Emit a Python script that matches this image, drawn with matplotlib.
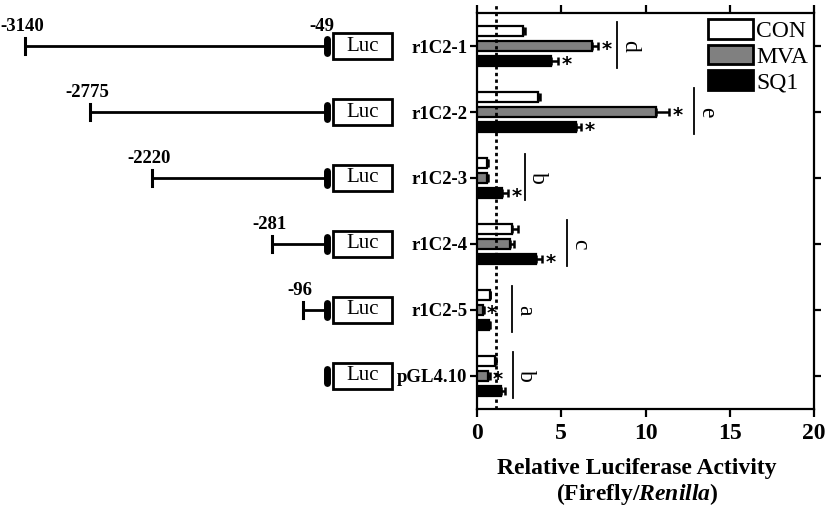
#!/usr/bin/env python3
"""
Promoter deletion constructs and relative luciferase activity
(CON / MVA / SQ1), horizontal grouped bars with construct schematics.
"""

import numpy as np
import matplotlib
matplotlib.use('Agg')
import matplotlib.pyplot as plt
from matplotlib.patches import Rectangle

plt.rcParams['font.family'] = ['Liberation Serif', 'DejaVu Serif']
plt.rcParams['mathtext.fontset'] = 'custom'
plt.rcParams['mathtext.rm'] = 'Liberation Serif:bold'
plt.rcParams['mathtext.bfit'] = 'Liberation Serif:italic:bold'

# ---- data ----
constructs = ['r1C2-1', 'r1C2-2', 'r1C2-3', 'r1C2-4', 'r1C2-5', 'pGL4.10']
start_labels = ['-3140', '-2775', '-2220', '-281', '-96', None]
end_label = '-49'

con = [2.7, 3.6, 0.6, 2.1, 0.75, 1.05]
con_err = [0.15, 0.12, 0.05, 0.35, 0.05, 0.05]
mva = [6.85, 10.6, 0.6, 1.95, 0.35, 0.65]
mva_err = [0.35, 0.8, 0.05, 0.25, 0.05, 0.1]
sq1 = [4.4, 5.85, 1.5, 3.5, 0.7, 1.45]
sq1_err = [0.4, 0.35, 0.33, 0.38, 0.05, 0.2]

mva_star = [True, True, False, False, True, True]
sq1_star = [True, True, True, True, False, False]

sig_letters = ['d', 'e', 'b', 'c', 'a', 'b']
sig_line_x = [8.3, 12.85, 2.85, 5.35, 2.05, 2.15]

baseline = 1.1

# schematic (not to scale) left ends of the promoter fragments
diagram_start = [25, 90, 152, 272, 303, None]

# ---- figure ----
fig = plt.figure(figsize=(8.25, 5.14), dpi=100)
ax = fig.add_axes([0.5782, 0.2043, 0.4085, 0.7704])
ax_d = fig.add_axes([0.0, 0.2043, 0.57, 0.7704], sharey=ax)

y = np.arange(len(constructs))
off = 0.227
h = 0.15
series = [
    ('CON', con, con_err, 'white'),
    ('MVA', mva, mva_err, '#808080'),
    ('SQ1', sq1, sq1_err, 'black'),
]
for i, (name, vals, errs, color) in enumerate(series):
    ys = y + (i - 1) * off
    ax.barh(ys, vals, height=h, color=color, edgecolor='black',
            linewidth=1.6, label=name, zorder=3)
    ax.errorbar(vals, ys, xerr=[np.zeros(len(vals)), errs], fmt='none',
                ecolor='black', elinewidth=1.8, capsize=3.2, capthick=1.8,
                zorder=2)

# stars
for k in range(len(constructs)):
    if mva_star[k]:
        ax.text(mva[k] + mva_err[k] + 0.2, y[k] + 0.06, '*', ha='left',
                va='center', fontsize=14, fontweight='bold',
                family='DejaVu Sans')
    if sq1_star[k]:
        ax.text(sq1[k] + sq1_err[k] + 0.2, y[k] + off + 0.06, '*', ha='left',
                va='center', fontsize=14, fontweight='bold',
                family='DejaVu Sans')

# significance groups
for k in range(len(constructs)):
    ax.plot([sig_line_x[k], sig_line_x[k]], [y[k] - 0.36, y[k] + 0.33],
            color='black', lw=1.3, clip_on=False)
    ax.text(sig_line_x[k] + 0.75, y[k], sig_letters[k], rotation=270,
            ha='center', va='center', fontsize=17)

ax.axvline(baseline, ymin=0, ymax=1.025, color='black', ls=(0, (1.2, 1.2)),
           lw=2, clip_on=False, zorder=4)

ax.set_xlim(0, 20)
ax.set_ylim(len(constructs) - 0.5, -0.5)
ax.set_xticks([0, 5, 10, 15, 20])
ax.set_xticklabels(['0', '5', '10', '15', '20'], fontsize=17, fontweight='bold')
ax.set_yticks(y)
ax.set_yticklabels(constructs, fontsize=13.5, fontweight='bold')
ax.tick_params(axis='x', direction='out', length=6, width=1.6, pad=4,
               top=True)
ax.tick_params(axis='y', direction='out', length=5, width=1.6, pad=2,
               right=True)
for s in ax.spines.values():
    s.set_linewidth(1.6)

ax.set_xlabel('Relative Luciferase Activity\n(Firefly/$\\mathbfit{Renilla}$)',
              fontsize=17, fontweight='bold', linespacing=1.1)
ax.xaxis.set_label_coords(0.475, -0.125, transform=ax.transAxes)
ax.xaxis.label.set_va('top')

leg = ax.legend(loc='upper right', frameon=False, fontsize=17,
                handlelength=1.9, handleheight=0.9, labelspacing=0.12,
                handletextpad=0.15, borderaxespad=0.15, borderpad=0.1)
for p in leg.get_patches():
    p.set_linewidth(2)

# ---- construct schematics ----
ax_d.set_xlim(0, 470)
ax_d.axis('off')
oval_x = 327
box_x0, box_x1 = 333, 392
for k in range(len(constructs)):
    yc = y[k]
    if diagram_start[k] is not None:
        x0 = diagram_start[k]
        ax_d.plot([x0, oval_x], [yc, yc], color='black', lw=2)
        ax_d.plot([x0, x0], [yc - 0.12, yc + 0.12], color='black', lw=2.2)
        ax_d.text(x0 - 3, yc - 0.3, start_labels[k], ha='center', va='center',
                  fontsize=13.5, fontweight='bold')
    ax_d.plot([oval_x, oval_x], [yc - 0.11, yc + 0.11], color='black', lw=5,
              solid_capstyle='round')
    ax_d.add_patch(Rectangle((box_x0, yc - 0.19), box_x1 - box_x0, 0.38,
                             facecolor='white', edgecolor='black', lw=2))
    ax_d.text((box_x0 + box_x1) / 2, yc, 'Luc', ha='center', va='center',
              fontsize=15)
ax_d.text(oval_x - 5, y[0] - 0.3, end_label, ha='center', va='center',
          fontsize=13.5, fontweight='bold')

fig.savefig('out.png', dpi=100)
